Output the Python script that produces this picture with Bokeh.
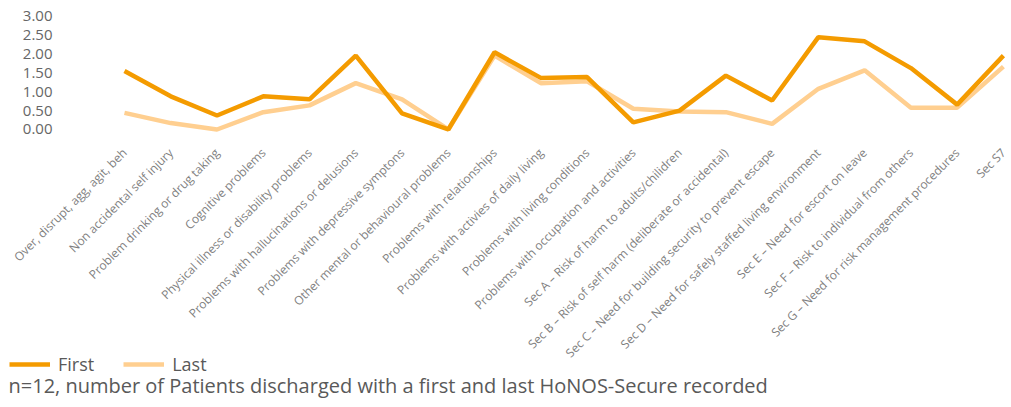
import math
from bokeh.plotting import figure
from bokeh.models import (ColumnDataSource, Range1d, FixedTicker, NumeralTickFormatter,
                          Legend, LegendItem, Label)
from bokeh.embed import file_html
from bokeh.resources import INLINE

categories = [
    "Over, disrupt, agg, agit, beh",
    "Non accidental self injury",
    "Problem drinking or drug taking",
    "Cognitive problems",
    "Physical illness or disability problems",
    "Problems with hallucinations or delusions",
    "Problems with depressive symptons",
    "Other mental or behavioural problems",
    "Problems with relationships",
    "Problems with activies of daily living",
    "Problems with living conditions",
    "Problems with occupation and activities",
    "Sec A \u2013 Risk of harm to adults/chilidren",
    "Sec B \u2013 Risk of self harm (deliberate or accidental)",
    "Sec C \u2013 Need for building security to prevent escape",
    "Sec D \u2013 Need for safely staffed living environment",
    "Sec E \u2013 Need for escort on leave",
    "Sec F \u2013 Risk to individual from others",
    "Sec G \u2013 Need for risk management procedures",
    "Sec S7",
]
first = [1.55, 0.88, 0.37, 0.88, 0.80, 1.96, 0.43, 0.00, 2.05, 1.37,
         1.39, 0.19, 0.50, 1.43, 0.77, 2.45, 2.34, 1.63, 0.66, 1.96]
last = [0.44, 0.17, 0.00, 0.46, 0.64, 1.23, 0.80, 0.00, 1.96, 1.23,
        1.28, 0.55, 0.48, 0.46, 0.15, 1.08, 1.57, 0.58, 0.58, 1.67]
y_ticks = [0.0, 0.5, 1.0, 1.5, 2.0, 2.5, 3.0]
footer = "n=12, number of Patients discharged with a first and last HoNOS-Secure recorded"

FONT = "Open Sans"
ORANGE = "#F49B00"
PEACH = "#FFCF90"

x = list(range(len(categories)))
src = ColumnDataSource(data=dict(x=x, first=first, last=last))

p = figure(width=1010, height=405, output_backend="svg", toolbar_location=None,
           x_range=Range1d(-2.680, 19.153), y_range=Range1d(-7.327, 3.424),
           min_border=0)
p.outline_line_color = None
p.xgrid.visible = False
p.ygrid.visible = False
p.background_fill_color = None
p.border_fill_color = None

r_last = p.line("x", "last", source=src, line_color=PEACH, line_width=4.5)
r_first = p.line("x", "first", source=src, line_color=ORANGE, line_width=4.5)

xa = p.xaxis[0]
xa.fixed_location = -0.345
xa.ticker = FixedTicker(ticks=x)
xa.major_label_overrides = {i: c for i, c in enumerate(categories)}
xa.major_label_orientation = math.pi / 4
xa.axis_line_color = None
xa.major_tick_line_color = None
xa.minor_tick_line_color = None
xa.major_tick_out = 0
xa.major_tick_in = 0
xa.major_label_standoff = 8
xa.major_label_text_font = FONT
xa.major_label_text_font_size = "12px"
xa.major_label_text_color = "#7f7f7f"

ya = p.yaxis[0]
ya.fixed_location = -1.340
ya.ticker = FixedTicker(ticks=y_ticks)
ya.formatter = NumeralTickFormatter(format="0.00")
ya.axis_line_color = None
ya.major_tick_line_color = None
ya.minor_tick_line_color = None
ya.major_tick_out = 0
ya.major_tick_in = 0
ya.major_label_standoff = 10
ya.major_label_text_font = FONT
ya.major_label_text_font_size = "15px"
ya.major_label_text_color = "#666666"

legend = Legend(items=[LegendItem(label="First", renderers=[r_first]),
                       LegendItem(label="Last", renderers=[r_last])],
                orientation="horizontal", location=(9, 29),
                glyph_width=41, glyph_height=20, label_standoff=8, spacing=29,
                padding=0, margin=0, border_line_color=None,
                background_fill_color=None,
                label_text_font=FONT, label_text_font_size="18px",
                label_text_color="#595959")
p.add_layout(legend, "center")

foot = Label(x=8, y=20, x_units="screen", y_units="screen", text=footer,
             text_font=FONT, text_font_size="20px", text_color="#595959",
             text_align="left", text_baseline="middle")
p.add_layout(foot)

open("out.html", "w").write(file_html(p, INLINE))
